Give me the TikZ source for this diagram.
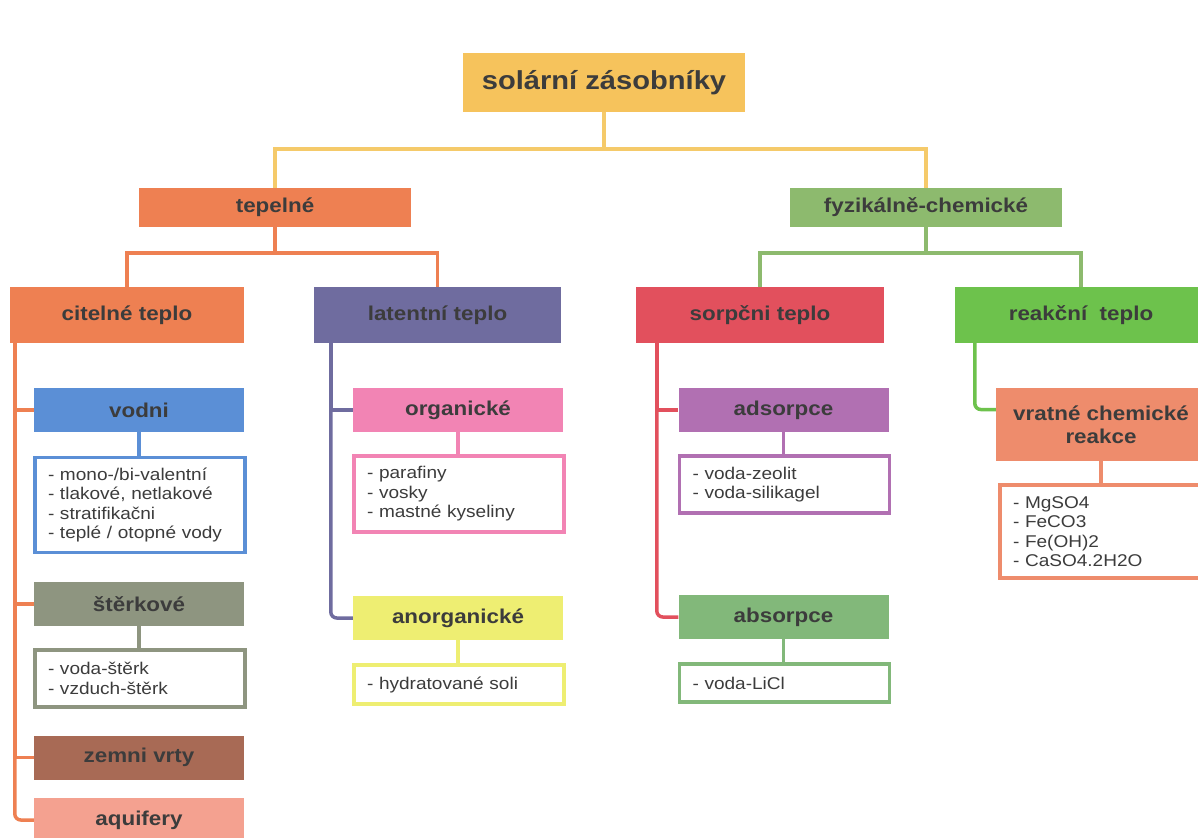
\documentclass[tikz,border=0pt]{standalone}
\usepackage{fontspec}
\setmainfont{Liberation Sans}[FakeStretch=1.12]
\usetikzlibrary{positioning}

\definecolor{txt}{HTML}{3C3C3C}
\definecolor{cTop}{HTML}{F6C35C}
\definecolor{cTopLn}{HTML}{F5CA6A}
\definecolor{cOrange}{HTML}{EE8052}
\definecolor{cGreenM}{HTML}{8DBA6E}
\definecolor{cSlate}{HTML}{6F6C9F}
\definecolor{cRed}{HTML}{E2505D}
\definecolor{cGreen}{HTML}{6DC24C}
\definecolor{cBlue}{HTML}{5B8FD6}
\definecolor{cPink}{HTML}{F284B4}
\definecolor{cGravel}{HTML}{8E9580}
\definecolor{cYellow}{HTML}{EEEE72}
\definecolor{cPurple}{HTML}{B170B2}
\definecolor{cGreenL}{HTML}{82B87A}
\definecolor{cSalmon}{HTML}{EE8C6C}
\definecolor{cBrown}{HTML}{A86A55}
\definecolor{cAqu}{HTML}{F4A190}

\begin{document}
\begin{tikzpicture}[x=1pt, y=-1pt,
    box/.style={fill=#1, inner sep=0pt, text=txt, align=center},
    main/.style={box=#1, font=\fontsize{20}{24}\selectfont\bfseries},
    sub/.style={box=#1, minimum width=210pt, minimum height=44pt, font=\fontsize{20}{23}\selectfont\bfseries},
    lst/.style={draw=#1, line width=3.5pt, fill=white, text=txt, align=left,
      minimum width=210pt, text width=184pt, inner xsep=13pt, inner ysep=0pt,
      font=\fontsize{17}{19.5}\selectfont},
    ln/.style={draw=#1, line width=3.5pt}]
  \useasboundingbox (0,0) rectangle (1198,837);

  % Root and first level
  \node[box=cTop, minimum width=282pt, minimum height=59pt, font=\fontsize{26}{30}\selectfont\bfseries]
    (root) at (604,82.5) {solární zásobníky};
  \node[main=cOrange, minimum width=272pt, minimum height=39pt] (tep) at (275,207.5) {tepelné};
  \node[main=cGreenM, minimum width=272pt, minimum height=39pt] (fyz) at (926,207.5) {fyzikálně-chemické};

  \draw[ln=cTopLn] (root.south) -- ++(0,37) -| (tep.north);
  \draw[ln=cTopLn] (root.south) -- ++(0,37) -| (fyz.north);

  % Second level
  \node[main=cOrange, minimum width=234pt, minimum height=56pt] (cit) at (127,315) {citelné teplo};
  \node[main=cSlate, minimum width=247pt, minimum height=56pt] (lat) at (437.5,315) {latentní teplo};
  \node[main=cRed, minimum width=248pt, minimum height=56pt] (sor) at (760,315) {sorpčni teplo};
  \node[main=cGreen, minimum width=252pt, minimum height=56pt] (rea) at (1081,315) {reakční\ \ teplo};

  \draw[ln=cOrange] (tep.south) -- ++(0,26) -| (cit.north);
  \draw[ln=cOrange] (tep.south) -- ++(0,26) -| (lat.north);
  \draw[ln=cGreenM] (fyz.south) -- ++(0,26) -| (sor.north);
  \draw[ln=cGreenM] (fyz.south) -- ++(0,26) -| (rea.north);

  % citelne teplo
  \node[sub=cBlue] (vod) at (139,410) {vodni};
  \node[lst=cBlue, minimum height=95pt] (vod-l) at (140,505)
    {- mono-/bi-valentní\\- tlakové, netlakové\\- stratifikačni\\- teplé / otopné vody};
  \node[sub=cGravel] (ste) at (139,604) {štěrkové};
  \node[lst=cGravel, minimum height=57pt] (ste-l) at (140,678.5) {- voda-štěrk\\- vzduch-štěrk};
  \node[sub=cBrown] (zem) at (139,757.5) {zemni vrty};
  \node[sub=cAqu] (aqu) at (139,820) {aquifery};

  \coordinate (cit-s) at ([xshift=5pt]cit.south west);
  \draw[ln=cOrange] (cit-s) |- (vod.west);
  \draw[ln=cOrange] (cit-s) |- (ste.west);
  \draw[ln=cOrange] (cit-s) |- (zem.west);
  \draw[ln=cOrange, rounded corners=6pt] (cit-s) |- (aqu.west);
  \draw[ln=cBlue] (vod.south) -- (vod-l.north -| vod.south);
  \draw[ln=cGravel] (ste.south) -- (ste-l.north -| ste.south);

  % latentni teplo
  \node[sub=cPink] (org) at (458,410) {organické};
  \node[lst=cPink, minimum height=76pt] (org-l) at (459,494) {- parafiny\\- vosky\\- mastné kyseliny};
  \node[sub=cYellow] (ano) at (458,618) {anorganické};
  \node[lst=cYellow, minimum height=39pt] (ano-l) at (459,684.5) {- hydratované soli};

  \coordinate (lat-s) at ([xshift=17pt]lat.south west);
  \draw[ln=cSlate] (lat-s) |- (org.west);
  \draw[ln=cSlate, rounded corners=6pt] (lat-s) |- (ano.west);
  \draw[ln=cPink] (org.south) -- (org-l.north -| org.south);
  \draw[ln=cYellow] (ano.south) -- (ano-l.north -| ano.south);

  % sorpcni teplo
  \node[sub=cPurple] (ads) at (783.5,410) {adsorpce};
  \node[lst=cPurple, minimum height=57pt] (ads-l) at (784.5,484.5) {- voda-zeolit\\- voda-silikagel};
  \node[sub=cGreenL] (abs) at (783.5,617) {absorpce};
  \node[lst=cGreenL, minimum height=38pt] (abs-l) at (784.5,683) {- voda-LiCl};

  \coordinate (sor-s) at ([xshift=21pt]sor.south west);
  \draw[ln=cRed] (sor-s) |- (ads.west);
  \draw[ln=cRed, rounded corners=6pt] (sor-s) |- (abs.west);
  \draw[ln=cPurple] (ads.south) -- (ads-l.north -| ads.south);
  \draw[ln=cGreenL] (abs.south) -- (abs-l.north -| abs.south);

  % reakcni teplo
  \node[sub=cSalmon, minimum height=73pt] (vra) at (1101,424.5) {vratné chemické\\reakce};
  \node[lst=cSalmon, minimum height=93pt] (vra-l) at (1105,531.5)
    {- MgSO4\\- FeCO3\\- Fe(OH)2\\- CaSO4.2H2O};

  \coordinate (rea-s) at ([xshift=20pt]rea.south west);
  \draw[ln=cGreen, rounded corners=6pt] (rea-s) |- ([yshift=15pt]vra.west);
  \draw[ln=cSalmon] (vra.south) -- (vra-l.north -| vra.south);
\end{tikzpicture}
\end{document}
